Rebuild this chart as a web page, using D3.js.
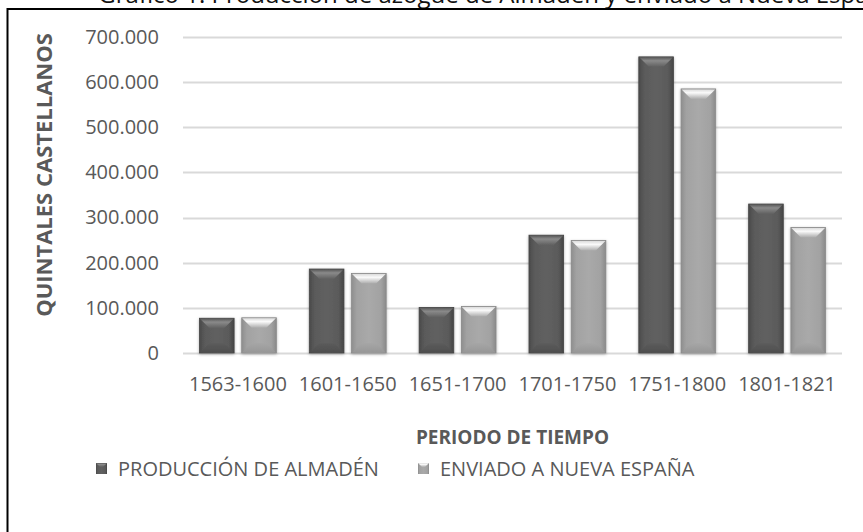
<!DOCTYPE html>
<html>
<head>
<meta charset="utf-8">
<script src="https://cdn.jsdelivr.net/npm/d3@7"></script>
<style>
  html, body { margin: 0; padding: 0; background: #fff; overflow: hidden; }
  svg { display: block; }
  text { font-family: "Open Sans", sans-serif; }
</style>
</head>
<body>
<div id="chart"></div>
<script>
    // datos
    var categorias = ["1563-1600", "1601-1650", "1651-1700", "1701-1750", "1751-1800", "1801-1821"];
    var series = ["PRODUCCIÓN DE ALMADÉN", "ENVIADO A NUEVA ESPAÑA"];
    var produccion = [77000, 186000, 101000, 261000, 656000, 330000];
    var enviado = [78000, 176000, 103000, 249000, 585000, 278000];
    var yTicks = [0, 100000, 200000, 300000, 400000, 500000, 600000, 700000];
    var titulo = "Gráfico 1. Producción de azogue de Almadén y enviado a Nueva España";

    var width = 863, height = 532;
    var margin = { left: 183, right: 21, top: 37, bottom: 179 };

    var svg = d3.select("#chart").append("svg")
        .attr("width", width)
        .attr("height", height);

    var defs = svg.append("defs");

    // degradados para el efecto bisel
    function gradiente(id, stops, vertical) {
        var g = defs.append("linearGradient").attr("id", id)
            .attr("x1", 0).attr("y1", 0)
            .attr("x2", vertical ? 0 : 1).attr("y2", vertical ? 1 : 0);
        stops.forEach(function (s) {
            g.append("stop").attr("offset", s[0]).attr("stop-color", s[1]);
        });
    }
    gradiente("cuerpo0", [[0, "#4a4a4a"], [0.15, "#5a5a5a"], [0.5, "#616161"], [0.85, "#5a5a5a"], [1, "#454545"]]);
    gradiente("cuerpo1", [[0, "#8e8e8e"], [0.15, "#a2a2a2"], [0.5, "#a9a9a9"], [0.85, "#a2a2a2"], [1, "#8a8a8a"]]);
    gradiente("tapa0", [[0, "#5a5a5a"], [0.35, "#8a8a8a"], [1, "#606060"]], true);
    gradiente("tapa1", [[0, "#dcdcdc"], [0.35, "#fafafa"], [1, "#acacac"]], true);
    gradiente("base0", [[0, "#5c5c5c"], [1, "#4e4e4e"]], true);
    gradiente("base1", [[0, "#a6a6a6"], [1, "#979797"]], true);

    var filtro = defs.append("filter").attr("id", "sombra")
        .attr("x", "-30%").attr("y", "-10%").attr("width", "160%").attr("height", "120%");
    filtro.append("feDropShadow").attr("dx", 0).attr("dy", 1)
        .attr("stdDeviation", 1.8).attr("flood-color", "#000").attr("flood-opacity", 0.3);

    // titulo (cortado por arriba, como en la imagen)
    var tit = svg.append("text")
        .attr("y", 3)
        .attr("font-size", 24)
        .attr("fill", "#111")
        .text(titulo);
    var anchoAntes = tit.node().getSubStringLength(0, titulo.indexOf("azogue") + 2);
    tit.attr("x", 403 - anchoAntes);

    // marco
    svg.append("path")
        .attr("d", "M7.5," + height + "V9H" + width)
        .attr("fill", "none")
        .attr("stroke", "#000")
        .attr("stroke-width", 2);

    var y = d3.scaleLinear()
        .domain([0, 700000])
        .range([height - margin.bottom, margin.top]);

    var x0 = d3.scaleBand()
        .domain(categorias)
        .range([margin.left, width - margin.right]);

    var x1 = d3.scaleBand()
        .domain(series)
        .range([x0.bandwidth() * 0.15, x0.bandwidth() * 0.85])
        .paddingInner(0.18);

    var fmt = d3.formatLocale({ decimal: ",", thousands: ".", grouping: [3], currency: ["", "€"] }).format(",");

    // lineas de cuadricula
    svg.append("g").selectAll("line").data(yTicks).enter().append("line")
        .attr("x1", margin.left)
        .attr("x2", width - margin.right)
        .attr("y1", function (d) { return Math.round(y(d)) + 0.5; })
        .attr("y2", function (d) { return Math.round(y(d)) + 0.5; })
        .attr("stroke", "#d9d9d9")
        .attr("stroke-width", 2);

    // eje y
    var ejeY = svg.append("g")
        .attr("transform", "translate(" + (margin.left - 24) + ",0)")
        .call(d3.axisLeft(y).tickValues(yTicks).tickFormat(fmt).tickSize(0).tickPadding(0));
    ejeY.select(".domain").remove();
    ejeY.selectAll("text")
        .attr("font-family", "Open Sans")
        .attr("font-size", 20)
        .attr("fill", "#595959");

    // eje x
    var ejeX = svg.append("g")
        .attr("transform", "translate(0," + (height - margin.bottom) + ")")
        .call(d3.axisBottom(x0).tickSize(0).tickPadding(24));
    ejeX.select(".domain").remove();
    ejeX.selectAll("text")
        .attr("font-family", "Open Sans")
        .attr("font-size", 20)
        .attr("fill", "#595959");

    // barras con bisel
    function barra(g, ancho, alto, i) {
        var b = Math.min(10, ancho / 2, alto / 2);
        g.append("rect")
            .attr("width", ancho).attr("height", alto)
            .attr("fill", "url(#cuerpo" + i + ")")
            .attr("stroke", i ? "#8a8a8a" : "#444")
            .attr("stroke-width", 0.8);
        g.append("polygon")
            .attr("points", [[0.5, 0.5], [ancho - 0.5, 0.5], [ancho - b, b], [b, b]].join(" "))
            .attr("fill", "url(#tapa" + i + ")");
        g.append("polygon")
            .attr("points", [[b, alto - b], [ancho - b, alto - b], [ancho - 0.5, alto - 0.5], [0.5, alto - 0.5]].join(" "))
            .attr("fill", "url(#base" + i + ")");
    }

    var datos = categorias.map(function (c, k) {
        return { cat: c, valores: [produccion[k], enviado[k]] };
    });

    var grupos = svg.append("g").selectAll("g").data(datos).enter().append("g")
        .attr("transform", function (d) { return "translate(" + x0(d.cat) + ",0)"; });

    grupos.selectAll("g").data(function (d) {
        return d.valores.map(function (v, i) { return { serie: series[i], valor: v, i: i }; });
    }).enter().append("g")
        .attr("filter", "url(#sombra)")
        .attr("transform", function (d) { return "translate(" + x1(d.serie) + "," + y(d.valor) + ")"; })
        .each(function (d) {
            barra(d3.select(this), x1.bandwidth(), y(0) - y(d.valor), d.i);
        });

    // titulos de ejes
    svg.append("text")
        .attr("transform", "translate(52,175) rotate(-90)")
        .attr("text-anchor", "middle")
        .attr("font-size", 22)
        .attr("font-weight", "bold")
        .attr("fill", "#595959")
        .text("QUINTALES CASTELLANOS");

    svg.append("text")
        .attr("x", (margin.left + width - margin.right) / 2)
        .attr("y", 444)
        .attr("text-anchor", "middle")
        .attr("font-size", 19)
        .attr("font-weight", "bold")
        .attr("fill", "#595959")
        .text("PERIODO DE TIEMPO");

    // leyenda
    var posLeyenda = [96, 418];
    var leyenda = svg.append("g").selectAll("g").data(series).enter().append("g")
        .attr("transform", function (d, i) { return "translate(" + posLeyenda[i] + ",463)"; });
    leyenda.each(function (d, i) {
        var g = d3.select(this).append("g");
        g.append("rect").attr("width", 11).attr("height", 11)
            .attr("fill", "url(#cuerpo" + i + ")");
        g.append("polygon").attr("points", "0,0 11,0 7,4 4,4").attr("fill", "url(#tapa" + i + ")");
    });
    leyenda.append("text")
        .attr("x", 22)
        .attr("y", 13)
        .attr("font-size", 20)
        .attr("fill", "#595959")
        .text(function (d) { return d; });
</script>
</body>
</html>
